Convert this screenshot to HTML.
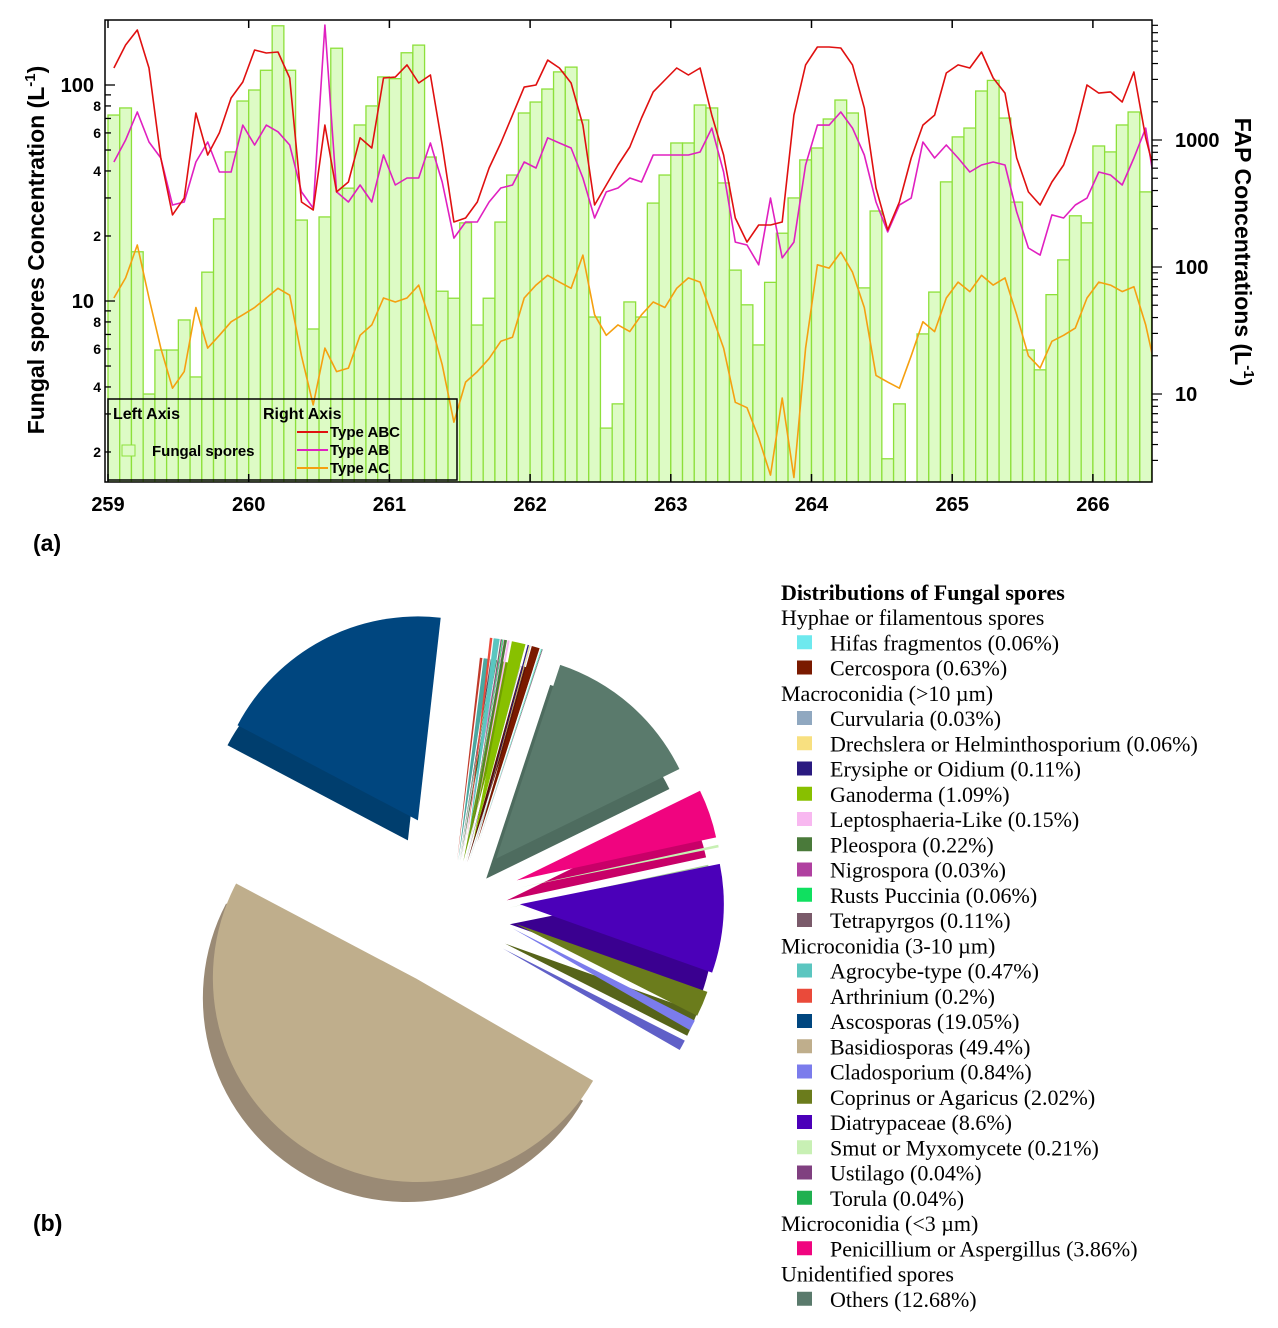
<!DOCTYPE html>
<html><head><meta charset="utf-8">
<style>
body{margin:0;background:#fff;}
svg{display:block;}
.b{font-family:"Liberation Sans",sans-serif;font-weight:bold;}
.s{font-family:"Liberation Serif",serif;}
</style></head>
<body>
<svg id="svg" width="1278" height="1328" viewBox="0 0 1278 1328" xmlns="http://www.w3.org/2000/svg">
<defs><clipPath id="plotclip"><rect x="105" y="20" width="1047" height="462"/></clipPath></defs>
<g id="bars" clip-path="url(#plotclip)"></g>
<g id="lines" clip-path="url(#plotclip)"></g>
<g id="axes"></g>
<g>
<rect x="108" y="399" width="349" height="81" fill="none" stroke="#000" stroke-width="1.5"/>
<text x="113" y="419" class="b" font-size="16">Left Axis</text>
<text x="263" y="419" class="b" font-size="16">Right Axis</text>
<rect x="122" y="445" width="13" height="11" fill="#ddfbc5" stroke="#8de03a"/>
<text x="152" y="456" class="b" font-size="15">Fungal spores</text>
<line x1="297" y1="432" x2="328" y2="432" stroke="#e01010" stroke-width="2"/>
<text x="330" y="437" class="b" font-size="15">Type ABC</text>
<line x1="297" y1="450" x2="328" y2="450" stroke="#e020c0" stroke-width="2"/>
<text x="330" y="455" class="b" font-size="15">Type AB</text>
<line x1="297" y1="468" x2="328" y2="468" stroke="#f5a010" stroke-width="2"/>
<text x="330" y="473" class="b" font-size="15">Type AC</text>
</g>
<text transform="translate(44,250) rotate(-90)" text-anchor="middle" class="b" font-size="23">Fungal spores Concentration (L<tspan dy="-9" font-size="15">-1</tspan><tspan dy="9">)</tspan></text>
<text transform="translate(1235,252) rotate(90)" text-anchor="middle" class="b" font-size="23">FAP Concentrations (L<tspan dy="-9" font-size="15">-1</tspan><tspan dy="9">)</tspan></text>
<text x="33" y="551" class="b" font-size="23">(a)</text>
<text x="33" y="1231" class="b" font-size="23">(b)</text>
<g id="pie"></g>
<g id="pieLegend"></g>
</svg>
<script>
// ---- Panel (a) data ----
const barValues = [72.6,78.3,16.9,3.71,5.93,5.93,8.17,4.45,13.6,24.0,49.0,84.3,94.8,117,188,117,23.7,7.42,24.5,148,33.3,65.3,80,109,107,141,153,46.4,11.1,10.3,
23,7.74,10.3,23.2,38.3,74.2,83.4,95.8,115,121,68.9,8.43,2.58,3.34,9.9,8.43,28.4,38.3,53.9,53.9,80.8,78.3,35.2,13.9,9.6,6.26,12.2,20.6,30,45,
51.1,69.6,85.2,74.2,11.5,26.1,1.86,3.34,0,7.04,11,35.6,57.5,63.2,93.8,105,70.3,28.7,5.93,4.8,10.7,15.5,24.8,23,52.2,49,65.3,75,32];
const typeABC = [3690,5600,7350,3690,722,257,349,1630,762,1140,2140,2860,5110,4840,4930,3080,325,281,1310,390,467,1040,865,3080,3130,3900,2810,3250,913,226,
243,325,602,947,1570,2610,2710,4260,3690,2810,1310,308,442,636,881,1490,2390,2970,3690,3250,3690,1570,762,243,157,214,214,226,1570,3900,
5400,5400,5300,3900,1790,419,196,325,722,1310,1570,3370,3900,3690,4930,3080,2340,722,390,308,467,636,1160,2710,2340,2390,1990,3430,1040,459];
const typeAB = [671,1000,1660,964,722,308,325,671,964,560,560,1310,913,1310,1160,913,390,291,8050,390,325,442,325,762,442,502,502,947,467,169,
226,226,325,419,442,671,602,1040,947,865,502,243,390,419,502,467,762,762,762,762,805,1240,560,157,149,104,349,118,157,636,
1310,1310,1660,1240,762,325,189,308,349,964,722,913,722,560,636,671,636,271,141,124,257,243,308,349,560,530,442,722,1240,325];
const typeAC = [57,82,149,57,23,11.1,15,48,23,29,37,42,48,57,68,60,20,8.2,23,15,16,29,35,57,53,57,72,37,17,6.0,
12.4,15,19,26,28,57,72,86,76,68,124,42,29,35,31,42,53,48,68,82,76,42,23,8.6,7.8,4.5,2.3,9.3,2.2,23,
104,98,131,91,48,14,12.4,11.1,20,37,31,57,76,64,86,72,82,42,20,16,26,29,33,57,76,72,64,70,35,13.4];
const xTicks = [259,260,261,262,263,264,265,266];
const leftMajor = [10,100];
const rightMajor = [10,100,1000];

const NS="http://www.w3.org/2000/svg";
function mk(tag, attrs, parent){const e=document.createElementNS(NS,tag);for(const k in attrs)e.setAttribute(k,attrs[k]);parent.appendChild(e);return e;}
const xS=t=>108+(t-259)*140.7;
const yL=v=>301-(Math.log10(v)-1)*216;
const yR=v=>394-(Math.log10(v)-1)*127;
const tOf=i=>259+(i+0.5)/12;
const BOT=482;

const gb=document.getElementById('bars');
barValues.forEach((v,i)=>{
  if(!(v>0))return;
  const x0=xS(259+i/12),x1=xS(259+(i+1)/12),y=yL(v);
  const r=mk('rect',{x:x0,y:y,width:x1-x0,height:Math.max(0,BOT-y),fill:'#ddfbc5',stroke:'#8de03a','stroke-width':1.3},gb);
  
  
});
const gl=document.getElementById('lines');
[[typeAC,'#f5a010','line-type-ac'],[typeAB,'#e020c0','line-type-ab'],[typeABC,'#e01010','line-type-abc']].forEach(([arr,col,nm])=>{
  const d=arr.map((v,i)=>(i?'L':'M')+xS(tOf(i)).toFixed(1)+','+yR(v).toFixed(1)).join(' ');
  const p=mk('path',{d:d,fill:'none',stroke:col,'stroke-width':1.6,'stroke-linejoin':'round'},gl);
  
  
});
const ga=document.getElementById('axes');
mk('rect',{x:105,y:20,width:1047,height:462,fill:'none',stroke:'#000','stroke-width':1.5},ga);
xTicks.forEach(t=>{
  const x=xS(t);
  mk('line',{x1:x,y1:482,x2:x,y2:474,stroke:'#000','stroke-width':1.5},ga);
  mk('line',{x1:x,y1:20,x2:x,y2:28,stroke:'#000','stroke-width':1.5},ga);
  const tx=mk('text',{x:x,y:511,'text-anchor':'middle','class':'b','font-size':20},ga);
  tx.textContent=t;
  
  
});
[1,10,100].forEach(dec=>{
  for(let m=1;m<=9;m++){
    const v=dec*m; const y=yL(v);
    if(y<20||y>482)continue;
    const major=(m===1);
    mk('line',{x1:105,y1:y,x2:105+(major?10:6),y2:y,stroke:'#000','stroke-width':1.3},ga);
    let lab=null,fs=14;
    if(major){lab=String(v);fs=20;}
    else if(m%2===0&&dec<100){lab=String(m);}
    if(lab){const tx=mk('text',{x:major?94:101,y:y+(major?7:5),'text-anchor':'end','class':'b','font-size':fs},ga);tx.textContent=lab;
      
      }
  }
});
[1,10,100,1000].forEach(dec=>{
  for(let m=1;m<=9;m++){
    const v=dec*m; const y=yR(v);
    if(y<20||y>482)continue;
    const major=(m===1);
    mk('line',{x1:1152,y1:y,x2:1152+(major?10:6),y2:y,stroke:'#000','stroke-width':1.2},ga);
    if(major&&rightMajor.includes(v)){const tx=mk('text',{x:1175,y:y+7,'class':'b','font-size':20},ga);tx.textContent=v;
      
      }
  }
});

// ---- Panel (b) pie data ----
const pieNames = ['Basidiosporas','Ascosporas','Arthrinium','Agrocybe-type','Tetrapyrgos','Rusts Puccinia','Nigrospora','Pleospora','Leptosphaeria-Like','Ganoderma','Erysiphe or Oidium','Drechslera or Helminthosporium','Curvularia','Cercospora','Hifas fragmentos','Torula','Ustilago','Others','Penicillium or Aspergillus','Smut or Myxomycete','Diatrypaceae','Coprinus or Agaricus','Cladosporium'];
const piePercents = [49.4,19.05,0.2,0.47,0.11,0.06,0.03,0.22,0.15,1.09,0.11,0.06,0.03,0.63,0.06,0.04,0.04,12.68,3.86,0.21,8.6,2.02,0.84];
const pieColors = ['#bfae8c','#00467f','#ea4a3a','#5bc6c0','#7a5a6a','#10e060','#b040a0','#4a7a3a','#f8b8f0','#88c000','#2a1a80','#f8e080','#90a8c0','#7a1a00','#6ee9ee','#20b050','#804080','#5a7a6c','#f0047f','#c8f0b4','#4b00b9','#6b7c1c','#7b7cec'];
const pieSides = ['#9a8a75','#003e6e','#c03a2a','#4aa8a0','#604858','#10b050','#903080','#3a602a','#d098d0','#70a000','#201060','#d0c060','#7088a0','#5a1000','#50c8d0','#189040','#603060','#4e6c5f','#c80068','#a8d098','#3a0090','#56641a','#6060c8'];

const gp=document.getElementById('pie');
const CX=460,CY=900,R=204,START=30;
function sector(cx,cy,a0,a1){
  const r=Math.PI/180;
  const x0=cx+R*Math.cos(a0*r),y0=cy+R*Math.sin(a0*r),x1=cx+R*Math.cos(a1*r),y1=cy+R*Math.sin(a1*r);
  return `M${cx.toFixed(1)},${cy.toFixed(1)} L${x0.toFixed(1)},${y0.toFixed(1)} A${R},${R} 0 ${(a1-a0)>180?1:0} 1 ${x1.toFixed(1)},${y1.toFixed(1)} Z`;
}
let ang=START;
const slices=[];
piePercents.forEach((p,i)=>{
  const a0=ang,a1=ang+p*3.6; ang=a1;
  const mid=(a0+a1)/2*Math.PI/180;
  const ex=(p>15)?90:(p>10?55:60);
  slices.push({i,a0,a1,ox:CX+ex*Math.cos(mid),oy:CY+ex*Math.sin(mid)});
});
slices.forEach(s=>{
  const side=mk('path',{d:sector(s.ox-10,s.oy+20,s.a0,s.a1),fill:pieSides[s.i]},gp);
  
  
});
slices.forEach(s=>{
  const top=mk('path',{d:sector(s.ox,s.oy,s.a0,s.a1),fill:pieColors[s.i]},gp);
  
  
});

const legendRows = [
 ['h','Hyphae or filamentous spores'],['i','Hifas fragmentos (0.06%)','#6ee9ee'],['i','Cercospora (0.63%)','#7a1a00'],
 ['h','Macroconidia (>10 µm)'],['i','Curvularia (0.03%)','#90a8c0'],['i','Drechslera or Helminthosporium (0.06%)','#f8e080'],['i','Erysiphe or Oidium (0.11%)','#2a1a80'],['i','Ganoderma (1.09%)','#88c000'],['i','Leptosphaeria-Like (0.15%)','#f8b8f0'],['i','Pleospora (0.22%)','#4a7a3a'],['i','Nigrospora (0.03%)','#b040a0'],['i','Rusts Puccinia (0.06%)','#10e060'],['i','Tetrapyrgos (0.11%)','#7a5a6a'],
 ['h','Microconidia (3-10 µm)'],['i','Agrocybe-type (0.47%)','#5bc6c0'],['i','Arthrinium (0.2%)','#ea4a3a'],['i','Ascosporas (19.05%)','#00467f'],['i','Basidiosporas (49.4%)','#bfae8c'],['i','Cladosporium (0.84%)','#7b7cec'],['i','Coprinus or Agaricus (2.02%)','#6b7c1c'],['i','Diatrypaceae (8.6%)','#4b00b9'],['i','Smut or Myxomycete (0.21%)','#c8f0b4'],['i','Ustilago (0.04%)','#804080'],['i','Torula (0.04%)','#20b050'],
 ['h','Microconidia (<3 µm)'],['i','Penicillium or Aspergillus (3.86%)','#f0047f'],
 ['h','Unidentified spores'],['i','Others (12.68%)','#5a7a6c']
];
const gpl=document.getElementById('pieLegend');
const tt=mk('text',{x:781,y:600,'class':'s','font-size':22,'font-weight':'bold'},gpl);
tt.textContent='Distributions of Fungal spores';


legendRows.forEach((r,k)=>{
  const y=625+k*25.25;
  if(r[0]==='h'){
    const t=mk('text',{x:781,y:y,'class':'s','font-size':22},gpl);t.textContent=r[1];
    
    
  } else {
    const sw=mk('rect',{x:797,y:y-15,width:15,height:14,fill:r[2]},gpl);
    
    
    const t=mk('text',{x:830,y:y,'class':'s','font-size':22},gpl);t.textContent=r[1];
    
    
  }
});
</script>
</body></html>
